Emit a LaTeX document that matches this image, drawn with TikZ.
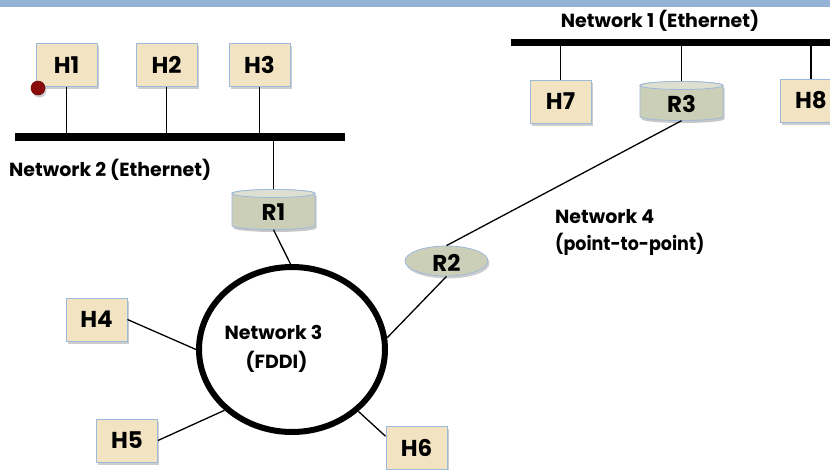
\documentclass[tikz,border=0pt]{standalone}
\usepackage{fontspec}
\setmainfont{Poppins}
\usetikzlibrary{shapes.geometric,shadows}

\definecolor{barblue}{HTML}{95B3D7}
\definecolor{hostfill}{HTML}{F2E3C3}
\definecolor{edgeblue}{HTML}{9DB9DA}
\definecolor{routerbody}{HTML}{CCCFB8}
\definecolor{routertop}{HTML}{DDE0D0}
\definecolor{dotred}{HTML}{8B0A0A}

\tikzset{
  softshadow/.style={drop shadow={shadow xshift=1.5pt, shadow yshift=-2.5pt, opacity=0.28, fill=black!70}},
  host/.style={draw=edgeblue, fill=hostfill, line width=0.9pt, minimum width=61pt,
    minimum height=43pt, inner sep=0pt, font=\fontsize{23}{25}\selectfont\bfseries, softshadow},
  routerspot/.style={rectangle, minimum width=83pt, minimum height=39pt, inner sep=0pt,
    font=\fontsize{23}{25}\selectfont\bfseries},
  roundrouter/.style={ellipse, draw=edgeblue, fill=routerbody, line width=0.8pt,
    minimum width=83pt, minimum height=30pt, inner sep=0pt,
    font=\fontsize{23}{25}\selectfont\bfseries, softshadow},
  netlabel/.style={font=\fontsize{19}{24}\selectfont\bfseries, inner sep=0pt},
  link/.style={line width=1.3pt, black},
  bus/.style={line width=7.5pt, black},
}

% drum-shaped router body: centre x, centre y, half width, half height
\newcommand\drumbody[4]{%
  \fill[black, opacity=0.22]
    (#1-#3+1.5,#2-#4+4+2.5) -- (#1-#3+1.5,#2+#4-4+2.5)
    arc[start angle=180, end angle=360, x radius=#3pt, y radius=4pt]
    -- (#1+#3+1.5,#2-#4+4+2.5)
    arc[start angle=0, end angle=180, x radius=#3pt, y radius=4pt] -- cycle;
  \filldraw[fill=routerbody, draw=edgeblue, line width=0.8pt]
    (#1-#3,#2-#4+4) -- (#1-#3,#2+#4-4)
    arc[start angle=180, end angle=360, x radius=#3pt, y radius=4pt]
    -- (#1+#3,#2-#4+4)
    arc[start angle=0, end angle=180, x radius=#3pt, y radius=4pt] -- cycle;
  \filldraw[fill=routertop, draw=edgeblue, line width=0.8pt]
    (#1,#2-#4+4) ellipse[x radius=#3pt, y radius=4pt];
}

\begin{document}
\begin{tikzpicture}[x=1pt,y=-1pt]
\useasboundingbox (0,0) rectangle (830,469);
\clip (0,0) rectangle (830,469);

% title band
\fill[barblue] (0,0) rectangle (830,7);

% Ethernet segments
\coordinate (bus2w) at (15,137);
\coordinate (bus2e) at (345,137);
\coordinate (bus1w) at (511,42.5);
\coordinate (bus1e) at (840,42.5);
\draw[bus] (bus2w) -- (bus2e);
\draw[bus] (bus1w) -- (bus1e);

% hosts on network 2
\node[host] (H1) at (66.5,65) {H1};
\node[host] (H2) at (166.5,65) {H2};
\node[host] (H3) at (259.5,65) {H3};
\node[circle, fill=dotred, draw=dotred!70!black, line width=0.5pt, minimum size=14pt,
  inner sep=0pt, softshadow] (dot) at (38,88) {};

% hosts and router on network 1
\node[host] (H7) at (560.5,101.5) {H7};
\node[host] (H8) at (811,100.5) {H8};
\drumbody{681.5}{101}{41.5}{19.5}
\node[routerspot] (R3) at (681.5,101) {\raisebox{-3pt}[\height][\depth]{R3}};

% routers
\drumbody{273.5}{209.5}{41.5}{20}
\node[routerspot, minimum height=40pt] (R1) at (273.5,209.5) {\raisebox{-3pt}[\height][\depth]{R1}};
\node[roundrouter] (R2) at (446.5,261) {\raisebox{-2pt}[\height][\depth]{R2}};

% FDDI ring
\node[ellipse, draw=black, line width=6pt, minimum width=186pt, minimum height=165pt,
  inner sep=0pt] (ring) at (292,349.5) {};
\node[netlabel, anchor=base] (n3a) at (273.5,339) {Network 3};
\node[netlabel, anchor=base] (n3b) at (276.5,368) {(FDDI)};

% hosts on the ring
\node[host] (H4) at (96.5,319.5) {H4};
\node[host] (H5) at (127,440.5) {H5};
\node[host] (H6) at (416.5,447.5) {H6};

% drops to the buses
\draw[link] (H1.south) -- (H1.south |- bus2w);
\draw[link] (H2.south) -- (H2.south |- bus2w);
\draw[link] (H3.south) -- (H3.south |- bus2w);
\draw[link] (R1.north) -- (R1.north |- bus2w);
\draw[link] (H7.north) -- (H7.north |- bus1w);
\draw[link] (R3.north) -- (R3.north |- bus1w);
\draw[link] (H8.north) -- (H8.north |- bus1w);

% ring attachments
\draw[link] (R1.south) -- (ring.91);
\draw[link] (H4.east) -- (ring.180);
\draw[link] (H5.east) -- (ring.222);
\draw[link] (H6.160) -- (ring.317);
\draw[link] (R2.south) -- (ring.7);

% point-to-point link
\draw[link] (R2.north) -- (R3.south);

% network names
\node[netlabel, anchor=base west] (n2) at (9,176) {Network 2 (Ethernet)};
\node[netlabel, anchor=base] (n1) at (660,27) {Network 1 (Ethernet)};
\node[netlabel, anchor=base west] (n4a) at (555,223) {Network 4};
\node[netlabel, anchor=base west, xscale=0.92] (n4b) at (555,250) {(point-to-point)};
\end{tikzpicture}
\end{document}
